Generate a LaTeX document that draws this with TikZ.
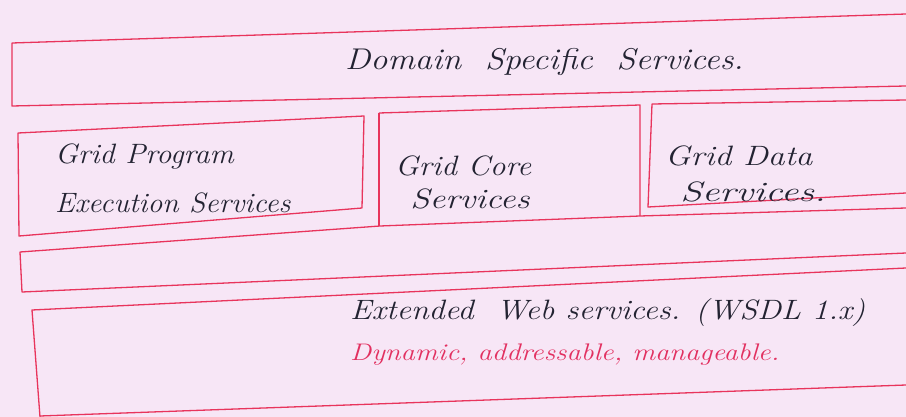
\documentclass[tikz,border=0pt]{standalone}
\usepackage{fontspec}
\setmainfont{Latin Modern Roman}
\definecolor{paper}{RGB}{247,230,246}
\definecolor{penred}{RGB}{232,52,92}
\definecolor{ink}{RGB}{35,35,50}
\definecolor{redink}{RGB}{226,48,96}
\begin{document}
\begin{tikzpicture}[x=1pt,y=-1pt,
  boxline/.style={draw=penred,line width=1.3pt,line join=round},
  hand/.style={text=ink,font=\itshape\fontsize{28}{32}\selectfont,anchor=west,inner sep=0pt},
  redhand/.style={text=redink,font=\itshape\fontsize{24}{28}\selectfont,anchor=west,inner sep=0pt}]
\fill[paper] (0,0) rectangle (906,417);
\useasboundingbox (0,0) rectangle (906,417);
% top layer
\draw[boxline] (906,14) -- (12,43) -- (12,106) -- (906,86);
% Grid program execution services box
\draw[boxline] (18,133) -- (364,116) -- (362,208) -- (19,236) -- cycle;
% Grid core services box (bottom shared with next layer)
\draw[boxline] (379,113) -- (379,226);
\draw[boxline] (379,113) -- (640,105) -- (640,216);
% Grid data services box
\draw[boxline] (906,100) -- (652,104) -- (648,207) -- (906,193);
% middle band
\draw[boxline] (906,208) -- (640,216) -- (380,226) -- (20,252) -- (22,292) -- (906,253);
% extended web services layer
\draw[boxline] (906,268) -- (32,310) -- (40,417);
\draw[boxline] (40,416) -- (906,385);
% texts
\node[hand,font=\itshape\fontsize{30}{34}\selectfont,xscale=1.14] (dss) at (345,62) {Domain\ \ Specific\ \ Services.};
\node[hand,xscale=1.08] (gp1) at (55,157) {Grid Program};
\node[hand,xscale=1.06] (gp2) at (55,203) {Execution Services};
\node[hand,xscale=1.12] (gc1) at (395,166) {Grid Core};
\node[hand,xscale=1.25] (gc2) at (410,199) {Services};
\node[hand,xscale=1.2] (gd1) at (665,156) {Grid Data};
\node[hand,xscale=1.4] (gd2) at (680,192) {Services.};
\node[hand,xscale=1.15] (ews) at (350,313) {Extended\ \ Web services. (WSDL 1.x)};
\node[redhand,xscale=1.19] (dyn) at (350,355) {Dynamic, addressable, manageable.};
\end{tikzpicture}
\end{document}
